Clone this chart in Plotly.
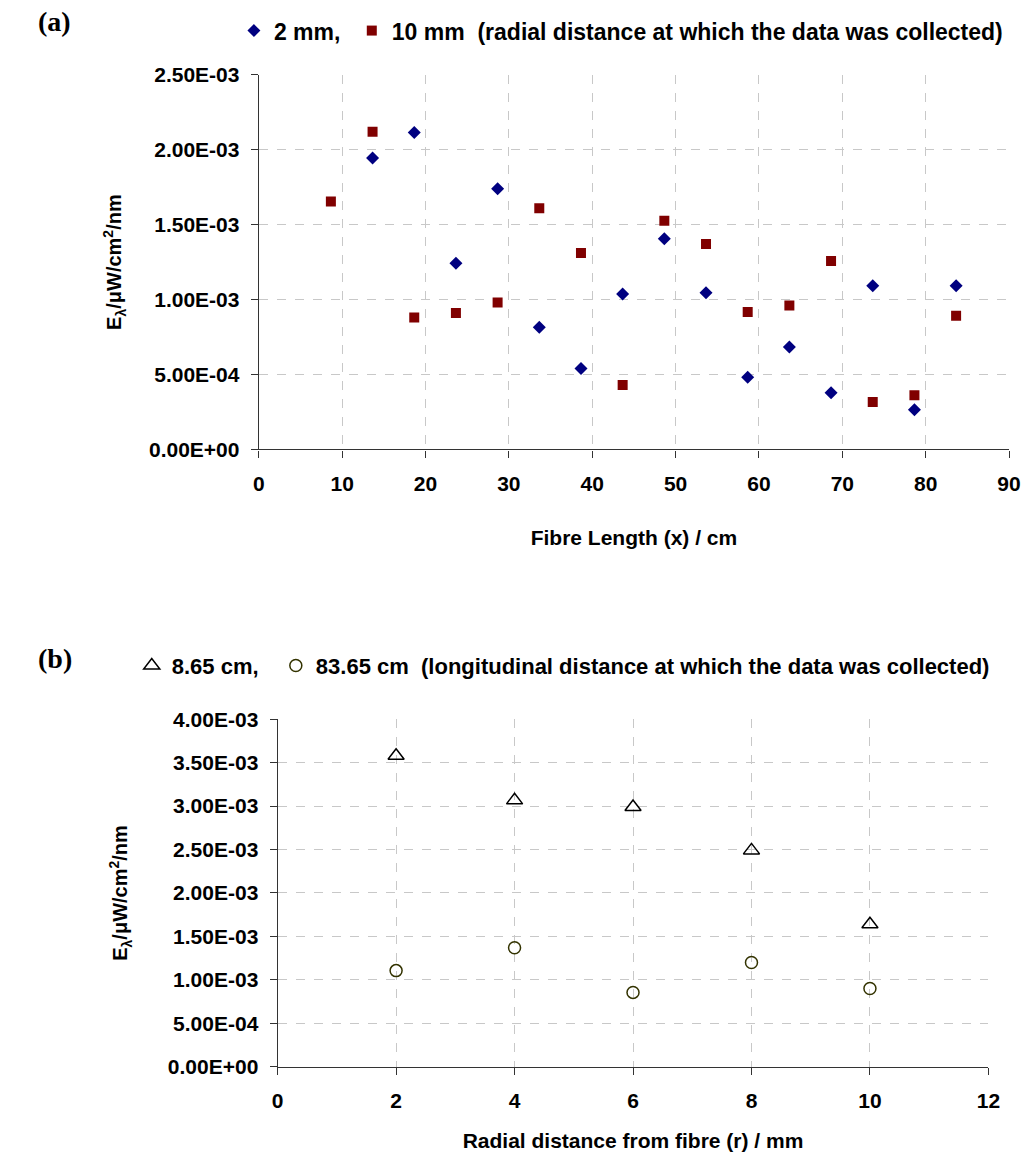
import plotly.graph_objects as go

# ---------------- data : panel (a) ----------------
x_2mm = [13.65, 18.65, 23.65, 28.65, 33.65, 38.65, 43.65, 48.65, 53.65,
         58.65, 63.65, 68.65, 73.65, 78.65, 83.65]
y_2mm = [1.945e-3, 2.115e-3, 1.243e-3, 1.740e-3, 0.815e-3, 0.540e-3, 1.037e-3,
         1.405e-3, 1.046e-3, 0.482e-3, 0.684e-3, 0.379e-3, 1.092e-3, 0.265e-3,
         1.092e-3]
x_10mm = [8.65, 13.65, 18.65, 23.65, 28.65, 33.65, 38.65, 43.65, 48.65, 53.65,
          58.65, 63.65, 68.65, 73.65, 78.65, 83.65]
y_10mm = [1.655e-3, 2.120e-3, 0.880e-3, 0.910e-3, 0.980e-3, 1.610e-3, 1.310e-3,
          0.430e-3, 1.525e-3, 1.370e-3, 0.917e-3, 0.960e-3, 1.257e-3, 0.316e-3,
          0.362e-3, 0.892e-3]
yticks_a = [0, 0.5e-3, 1.0e-3, 1.5e-3, 2.0e-3, 2.5e-3]

# ---------------- data : panel (b) ----------------
r_mm = [2, 4, 6, 8, 10]
y_865 = [3.580e-3, 3.066e-3, 2.990e-3, 2.490e-3, 1.640e-3]
y_8365 = [1.106e-3, 1.369e-3, 0.855e-3, 1.200e-3, 0.900e-3]
yticks_b = [0, 0.5e-3, 1.0e-3, 1.5e-3, 2.0e-3, 2.5e-3, 3.0e-3, 3.5e-3, 4.0e-3]

W, H = 1023, 1161
FONT = "Liberation Sans, Arial, sans-serif"
SERIF = "Liberation Serif, Times New Roman, serif"
GRID = "#c8c8c8"
AX = "#333333"
NB = "\u00a0"


def px_x(p):
    return p / W


def px_y(p):
    return 1 - p / H


def fmt(v):
    return f"{v:.2E}"


fig = go.Figure()
fig.add_trace(go.Scatter(x=x_2mm, y=y_2mm, mode="markers", name="2 mm," + NB,
                         marker=dict(symbol="diamond", size=10, color="#000080"),
                         xaxis="x", yaxis="y", legend="legend"))
fig.add_trace(go.Scatter(x=x_10mm, y=y_10mm, mode="markers",
                         name="10 mm" + NB * 2 + "(radial distance at which the data was collected)",
                         marker=dict(symbol="square", size=10, color="#800000"),
                         xaxis="x", yaxis="y", legend="legend"))
fig.add_trace(go.Scatter(x=r_mm, y=y_865, mode="markers", name="8.65 cm," + NB * 2,
                         marker=dict(symbol="triangle-up-open", size=14, color="#000000",
                                     line=dict(width=1.5, color="#000000")),
                         xaxis="x2", yaxis="y2", legend="legend2"))
fig.add_trace(go.Scatter(x=r_mm, y=y_8365, mode="markers",
                         name="83.65 cm" + NB * 2 + "(longitudinal distance at which the data was collected)",
                         marker=dict(symbol="circle-open", size=12, color="#333300",
                                     line=dict(width=1.5, color="#333300")),
                         xaxis="x2", yaxis="y2", legend="legend2"))

tickfont = dict(family=FONT, size=21, color="#000000", weight="bold")
titlefont = dict(family=FONT, size=21, color="#000000", weight="bold")
ytitlefont = dict(family=FONT, size=20, color="#000000", weight="bold")
legfont_a = dict(family=FONT, size=23, color="#000000", weight="bold")
legfont_b = dict(family=FONT, size=22, color="#000000", weight="bold")

common_x = dict(showgrid=True, gridcolor=GRID, griddash="dash", gridwidth=1,
                showline=True, linecolor=AX, linewidth=1.2, ticks="outside",
                ticklen=7, tickcolor=AX, zeroline=False, tickfont=tickfont,
                ticklabelstandoff=8)
common_y = dict(showgrid=True, gridcolor=GRID, griddash="dash", gridwidth=1,
                showline=True, linecolor=AX, linewidth=1.2, ticks="outside",
                ticklen=7, tickcolor=AX, zeroline=False, tickfont=tickfont,
                ticklabelstandoff=7)

fig.update_layout(
    width=W, height=H,
    margin=dict(l=0, r=0, t=0, b=0),
    paper_bgcolor="white", plot_bgcolor="white",
    font=dict(family=FONT, color="#000000"),
    xaxis=dict(domain=[px_x(257.3), px_x(1021)], range=[0, 90], dtick=10,
               tick0=0, anchor="y",
               title=dict(text="Fibre Length (x) / cm", font=titlefont, standoff=36),
               **common_x),
    yaxis=dict(domain=[px_y(446.3), px_y(64)], range=[0, 2.5e-3], anchor="x",
               tickvals=yticks_a, ticktext=[fmt(v) for v in yticks_a],
               title=dict(text="E<sub>λ</sub>/μW/cm<sup>2</sup>/nm", font=ytitlefont,
                          standoff=21),
               **common_y),
    xaxis2=dict(domain=[px_x(276.5), px_x(1000)], range=[0, 12], dtick=2,
                tick0=0, anchor="y2",
                title=dict(text="Radial distance from fibre (r) / mm", font=titlefont,
                           standoff=22),
                **common_x),
    yaxis2=dict(domain=[px_y(1076), px_y(721.5)], range=[0, 4e-3], anchor="x2",
                tickvals=yticks_b, ticktext=[fmt(v) for v in yticks_b],
                title=dict(text="E<sub>λ</sub>/μW/cm<sup>2</sup>/nm", font=ytitlefont,
                           standoff=34),
                **common_y),
    legend=dict(orientation="h", x=px_x(232), y=px_y(19), xanchor="left",
                yanchor="middle", bgcolor="rgba(0,0,0,0)", font=legfont_a),
    legend2=dict(orientation="h", x=px_x(128), y=px_y(667), xanchor="left",
                 yanchor="middle", bgcolor="rgba(0,0,0,0)", font=legfont_b),
    annotations=[
        dict(text="(a)", x=px_x(31), y=px_y(10), xref="paper", yref="paper",
             xanchor="left", yanchor="middle", showarrow=False,
             font=dict(family=SERIF, size=28, color="#000000", weight="bold")),
        dict(text="(b)", x=px_x(31), y=px_y(660), xref="paper", yref="paper",
             xanchor="left", yanchor="middle", showarrow=False,
             font=dict(family=SERIF, size=28, color="#000000", weight="bold")),
    ],
)

fig.write_html("out.html", config={"displayModeBar": False},
               post_script="document.body.style.margin='0';"
                           "document.documentElement.style.overflow='hidden';")
